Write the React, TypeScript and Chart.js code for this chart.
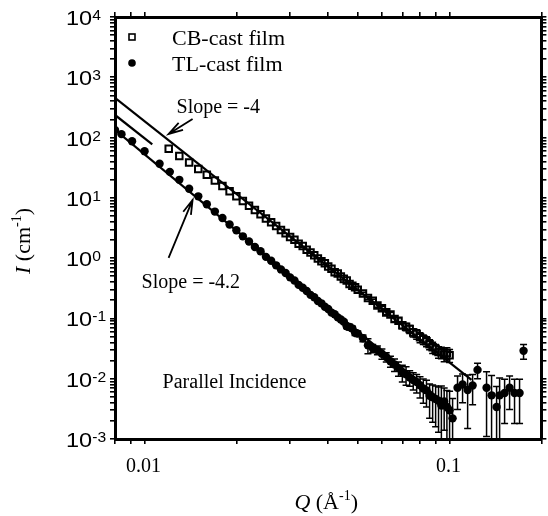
import React, { useEffect, useRef } from 'react';
import { Chart, registerables } from 'chart.js';

Chart.register(...registerables);

// ---- CB-cast film (open squares) ----
const cbQ = [
  0.012, 0.013, 0.014, 0.015, 0.016, 0.017, 0.018, 0.019, 0.020, 0.021,
  0.022, 0.023, 0.024, 0.025, 0.026, 0.027, 0.028, 0.029, 0.030, 0.031,
  0.032, 0.033, 0.034, 0.035, 0.036, 0.037, 0.038, 0.039, 0.040, 0.041,
  0.042, 0.043, 0.044, 0.045, 0.046, 0.047, 0.048, 0.049, 0.050,
  0.052, 0.054, 0.056, 0.058, 0.060, 0.062, 0.064, 0.066, 0.068, 0.070,
  0.072, 0.074, 0.076, 0.078, 0.080, 0.082, 0.084, 0.086, 0.088, 0.090,
  0.092, 0.094, 0.096, 0.098, 0.100,
];
const cbI = [
  65.0, 49.4, 38.5, 30.2, 24.2, 19.4, 15.8, 12.9, 10.6, 8.83,
  7.41, 6.28, 5.35, 4.55, 3.93, 3.42, 2.92, 2.60, 2.24, 2.01,
  1.73, 1.59, 1.376, 1.24, 1.12, 0.982, 0.892, 0.823, 0.727, 0.666,
  0.584, 0.557, 0.496, 0.453, 0.425, 0.372, 0.350, 0.330, 0.298,
  0.260, 0.219, 0.196, 0.164, 0.147, 0.126, 0.116, 0.098, 0.0912, 0.0774,
  0.0725, 0.0665, 0.0584, 0.0551, 0.0486, 0.0451, 0.0419, 0.0373, 0.0332, 0.0311,
  0.0278, 0.0274, 0.0251, 0.0266, 0.0245,
];
const cbErr = [
  0, 0, 0, 0, 0, 0, 0, 0, 0, 0,
  0, 0, 0, 0, 0, 0, 0, 0, 0, 0,
  0, 0, 0, 0, 0, 0, 0, 0, 0, 0,
  0, 0, 0, 0, 0, 0, 0, 0, 0,
  0.012, 0.011, 0.012, 0.011, 0.011, 0.010, 0.011, 0.010, 0.011, 0.010,
  0.010, 0.010, 0.009, 0.010, 0.009, 0.008, 0.008, 0.007, 0.007, 0.006,
  0.006, 0.006, 0.006, 0.006, 0.006,
];

// ---- TL-cast film (filled circles) ----
const tlQ = [
  0.0080, 0.0084, 0.0091, 0.0100, 0.0112, 0.0121, 0.0130, 0.0140, 0.0150, 0.0160,
  0.0170, 0.0180, 0.0190,
  0.020, 0.021, 0.022, 0.023, 0.024, 0.025, 0.026, 0.027, 0.028, 0.029,
  0.030, 0.031, 0.032, 0.033, 0.034, 0.035, 0.036, 0.037, 0.038, 0.039,
  0.040, 0.041, 0.042, 0.043, 0.044, 0.045, 0.046, 0.047, 0.048, 0.049, 0.050,
  0.052, 0.054, 0.056, 0.058, 0.060, 0.062, 0.064, 0.066, 0.068, 0.070,
  0.072, 0.074, 0.076, 0.078, 0.080, 0.082, 0.084, 0.086, 0.088, 0.090,
  0.092, 0.094, 0.096, 0.098, 0.100,
  0.1023, 0.1062, 0.1103, 0.1146, 0.1190, 0.1235, 0.1322, 0.1373, 0.1426, 0.1459,
  0.1515, 0.1573, 0.1633, 0.1696, 0.1748,
];
const tlI = [
  134, 114, 86.9, 59.5, 36.7, 27.0, 19.9, 14.2, 10.6, 7.85,
  5.92, 4.64, 3.61,
  2.90, 2.30, 1.89, 1.53, 1.30, 1.05, 0.905, 0.76, 0.65, 0.568,
  0.48, 0.425, 0.36, 0.322, 0.285, 0.246, 0.224, 0.195, 0.178, 0.156,
  0.143, 0.125, 0.117, 0.104, 0.096, 0.088, 0.074, 0.072, 0.068, 0.058, 0.056,
  0.047, 0.036, 0.032, 0.030, 0.026, 0.023, 0.0195, 0.0172, 0.0150, 0.0128,
  0.0118, 0.0105, 0.0095, 0.0088, 0.0078, 0.0069, 0.0064, 0.0052, 0.0049, 0.0046,
  0.0043, 0.0036, 0.0042, 0.0034, 0.0030,
  0.0022, 0.0071, 0.0080, 0.0065, 0.0077, 0.0140, 0.0071, 0.0053, 0.0034, 0.0053,
  0.0058, 0.0071, 0.0058, 0.0058, 0.029,
];
const tlErr = [
  0, 0, 0, 0, 0, 0, 0, 0, 0, 0,
  0, 0, 0,
  0, 0, 0, 0, 0, 0, 0, 0, 0, 0,
  0, 0, 0, 0, 0, 0, 0, 0, 0, 0,
  0, 0, 0, 0, 0, 0.006, 0.006, 0.008, 0.006, 0.006, 0.006,
  0.006, 0.010, 0.005, 0.005, 0.005, 0.004, 0.004, 0.004, 0.004, 0.004,
  0.004, 0.003, 0.003, 0.003, 0.003, 0.003, 0.003, 0.003, 0.003, 0.003,
  0.003, 0.004, 0.0028, 0.003, 0.0032,
  0.0025, 0.004, 0.004, 0.005, 0.004, 0.004, 0.006, 0.006, 0.004, 0.005,
  0.004, 0.004, 0.004, 0.004, 0.008,
];

// ---- fitted power-law lines ----
const fitSlope4Q = [0.008, 0.118];
const fitSlope4I = [454, 0.0096];
const fitUpperShortQ = [0.008, 0.0106];
const fitUpperShortI = [237, 77];
const fitSlope42Q = [0.008, 0.09];
const fitSlope42I = [134, 0.0052];

// ---- axes ----
const xMin = 0.008;
const xMax = 0.2;
const yMin = 1e-3;
const yMax = 1e4;
const xTickValues = [0.008, 0.009, 0.01, 0.02, 0.03, 0.04, 0.05, 0.06, 0.07, 0.08, 0.09, 0.1, 0.2];
const xTickLabelValues = [0.01, 0.1];
const xTickLabels = ['0.01', '0.1'];
const yDecadeExps = [-3, -2, -1, 0, 1, 2, 3, 4];
const yMinorMultipliers = [1, 2, 3, 4, 5, 6, 7, 8, 9];

// ---- annotations (anchored in data coordinates) ----
const legendLabels = ['CB-cast film', 'TL-cast film'];
const slope4Label = { text: 'Slope = -4', q: 0.01273, i: 256 };
const slope42Label = { text: 'Slope = -4.2', q: 0.00978, i: 0.321 };
const incidenceLabel = { text: 'Parallel Incidence', q: 0.01146, i: 0.00703 };
const arrow4 = { q1: 0.01437, i1: 203, q2: 0.01199, i2: 115 };
const arrow42 = { q1: 0.01199, i1: 1.008, q2: 0.01437, i2: 9.23 };

const SERIF = '"Liberation Serif", "Times New Roman", Times, serif';
const SANS = '"Liberation Sans", Arial, Helvetica, sans-serif';

type Part = { text: string; font: string; dy?: number };

function drawParts(ctx: CanvasRenderingContext2D, parts: Part[], x: number, y: number, align: 'left' | 'center', sx = 1) {
  ctx.save();
  ctx.translate(x, y);
  ctx.scale(sx, 1);
  ctx.textAlign = 'left';
  ctx.textBaseline = 'alphabetic';
  let total = 0;
  const widths = parts.map((p) => {
    ctx.font = p.font;
    const w = ctx.measureText(p.text).width;
    total += w;
    return w;
  });
  let cx = align === 'center' ? -total / 2 : 0;
  parts.forEach((p, k) => {
    ctx.font = p.font;
    ctx.fillText(p.text, cx, p.dy || 0);
    cx += widths[k];
  });
  ctx.restore();
}

function drawArrow(ctx: CanvasRenderingContext2D, x1: number, y1: number, x2: number, y2: number) {
  const ang = Math.atan2(y2 - y1, x2 - x1);
  const L = 15;
  const A = 0.28;
  ctx.beginPath();
  ctx.moveTo(x1, y1);
  ctx.lineTo(x2, y2);
  ctx.moveTo(x2 - L * Math.cos(ang - A), y2 - L * Math.sin(ang - A));
  ctx.lineTo(x2, y2);
  ctx.lineTo(x2 - L * Math.cos(ang + A), y2 - L * Math.sin(ang + A));
  ctx.stroke();
}

const errorBarPlugin = {
  id: 'errorBars',
  beforeDatasetsDraw(chart: any) {
    const { ctx, chartArea, scales } = chart;
    ctx.save();
    ctx.beginPath();
    ctx.rect(chartArea.left, chartArea.top, chartArea.right - chartArea.left, chartArea.bottom - chartArea.top);
    ctx.clip();
    ctx.strokeStyle = '#000';
    ctx.lineWidth = 1.5;
    chart.data.datasets.forEach((ds: any) => {
      const errs: number[] | undefined = ds.errorBars;
      if (!errs) return;
      ds.data.forEach((p: any, k: number) => {
        const e = errs[k];
        if (!e) return;
        const x = scales.x.getPixelForValue(p.x);
        const hi = scales.y.getPixelForValue(p.y + e);
        const lowVal = p.y - e;
        const lo = lowVal > 0 ? scales.y.getPixelForValue(lowVal) : chartArea.bottom + 5;
        ctx.beginPath();
        ctx.moveTo(x, hi);
        ctx.lineTo(x, lo);
        ctx.moveTo(x - 3.5, hi);
        ctx.lineTo(x + 3.5, hi);
        if (lowVal > 0) {
          ctx.moveTo(x - 3.5, lo);
          ctx.lineTo(x + 3.5, lo);
        }
        ctx.stroke();
      });
    });
    ctx.restore();
  },
};

const textPlugin = {
  id: 'texts',
  afterDraw(chart: any) {
    const { ctx, chartArea, scales } = chart;
    const sx = scales.x;
    const sy = scales.y;
    ctx.save();
    ctx.fillStyle = '#000';
    ctx.strokeStyle = '#000';

    // y tick labels 10^n
    yDecadeExps.forEach((e) => {
      const y = sy.getPixelForValue(Math.pow(10, e));
      drawParts(ctx, [
        { text: '10', font: `21px ${SANS}`, dy: 8 },
        { text: String(e), font: `14px ${SANS}`, dy: 3 },
      ], 66, y, 'left', 1.12);
    });

    // x tick labels
    xTickLabelValues.forEach((v, k) => {
      const x = sx.getPixelForValue(v);
      drawParts(ctx, [{ text: xTickLabels[k], font: `20px ${SERIF}` }], x - 1, 472, 'center');
    });

    // axis titles
    const midX = (chartArea.left + chartArea.right) / 2;
    drawParts(ctx, [
      { text: 'Q', font: `italic 22px ${SERIF}` },
      { text: ' (Å', font: `22px ${SERIF}` },
      { text: '-1', font: `14px ${SERIF}`, dy: -9 },
      { text: ')', font: `22px ${SERIF}` },
    ], midX - 2, 509, 'center');

    ctx.save();
    ctx.translate(30, (chartArea.top + chartArea.bottom) / 2 + 13);
    ctx.rotate(-Math.PI / 2);
    drawParts(ctx, [
      { text: 'I', font: `italic 22px ${SERIF}` },
      { text: ' (cm', font: `22px ${SERIF}` },
      { text: '-1', font: `14px ${SERIF}`, dy: -9 },
      { text: ')', font: `22px ${SERIF}` },
    ], 0, 0, 'center');
    ctx.restore();

    // legend
    const lx = chartArea.left + 17;
    ctx.lineWidth = 1.6;
    ctx.strokeRect(lx - 3, chartArea.top + 20 - 3, 6, 6);
    ctx.beginPath();
    ctx.arc(lx, chartArea.top + 46, 3.8, 0, Math.PI * 2);
    ctx.fill();
    drawParts(ctx, [{ text: legendLabels[0], font: `22px ${SERIF}` }], chartArea.left + 57, chartArea.top + 28, 'left');
    drawParts(ctx, [{ text: legendLabels[1], font: `22px ${SERIF}` }], chartArea.left + 57, chartArea.top + 54, 'left');

    // annotations
    [slope4Label, slope42Label, incidenceLabel].forEach((a) => {
      drawParts(ctx, [{ text: a.text, font: `20px ${SERIF}` }], sx.getPixelForValue(a.q), sy.getPixelForValue(a.i), 'left');
    });
    ctx.lineWidth = 1.8;
    [arrow4, arrow42].forEach((a) => {
      drawArrow(ctx, sx.getPixelForValue(a.q1), sy.getPixelForValue(a.i1), sx.getPixelForValue(a.q2), sy.getPixelForValue(a.i2));
    });
    ctx.restore();
  },
};

function yTickValues() {
  const out: number[] = [];
  yDecadeExps.forEach((e) => {
    if (e === yDecadeExps[yDecadeExps.length - 1]) {
      out.push(Math.pow(10, e));
      return;
    }
    yMinorMultipliers.forEach((m) => out.push(m * Math.pow(10, e)));
  });
  return out;
}

function axisBase(min: number, max: number, position: string, ticksList: () => number[], size: number, horizontal: boolean) {
  return {
    type: 'logarithmic',
    position,
    min,
    max,
    afterBuildTicks: (s: any) => {
      s.ticks = ticksList().map((v) => ({ value: v }));
    },
    afterFit: (s: any) => {
      if (horizontal) s.height = size;
      else s.width = size;
    },
    ticks: { display: false, autoSkip: false },
    grid: { drawOnChartArea: false, drawTicks: true, tickLength: 5, color: '#000', lineWidth: 1.6 },
    border: { display: true, color: '#000', width: 3 },
  };
}

export default function App() {
  const ref = useRef<HTMLCanvasElement | null>(null);
  useEffect(() => {
    if (!ref.current) return;
    const pts = (qs: number[], is: number[]) => qs.map((q, k) => ({ x: q, y: is[k] }));
    const chart = new Chart(ref.current, {
      type: 'scatter',
      data: {
        datasets: [
          { label: 'fit -4', data: pts(fitSlope4Q, fitSlope4I), showLine: true, pointRadius: 0, borderColor: '#000', borderWidth: 2.2 },
          { label: 'fit upper', data: pts(fitUpperShortQ, fitUpperShortI), showLine: true, pointRadius: 0, borderColor: '#000', borderWidth: 2.2 },
          { label: 'fit -4.2', data: pts(fitSlope42Q, fitSlope42I), showLine: true, pointRadius: 0, borderColor: '#000', borderWidth: 2.2 },
          {
            label: legendLabels[0], data: pts(cbQ, cbI), pointStyle: 'rect', pointRadius: 4.6,
            borderColor: '#000', backgroundColor: 'rgba(255,255,255,0)', borderWidth: 2, errorBars: cbErr,
          } as any,
          {
            label: legendLabels[1], data: pts(tlQ, tlI), pointStyle: 'circle', pointRadius: 4.2,
            borderColor: '#000', backgroundColor: '#000', borderWidth: 0, errorBars: tlErr,
          } as any,
        ],
      },
      options: {
        animation: false,
        responsive: false,
        events: [],
        layout: { padding: 0 },
        plugins: { legend: { display: false }, tooltip: { enabled: false } },
        scales: {
          x: axisBase(xMin, xMax, 'bottom', () => xTickValues, 77, true),
          x2: axisBase(xMin, xMax, 'top', () => xTickValues, 17, true),
          y: axisBase(yMin, yMax, 'left', yTickValues, 115, false),
          y2: axisBase(yMin, yMax, 'right', yTickValues, 5, false),
        } as any,
      },
      plugins: [errorBarPlugin, textPlugin],
    });
    return () => chart.destroy();
  }, []);
  return (
    <div style={{ position: 'absolute', left: 0, top: 0, width: 548, height: 516, background: '#fff' }}>
      <canvas ref={ref} width={548} height={516} style={{ display: 'block' }} />
    </div>
  );
}
